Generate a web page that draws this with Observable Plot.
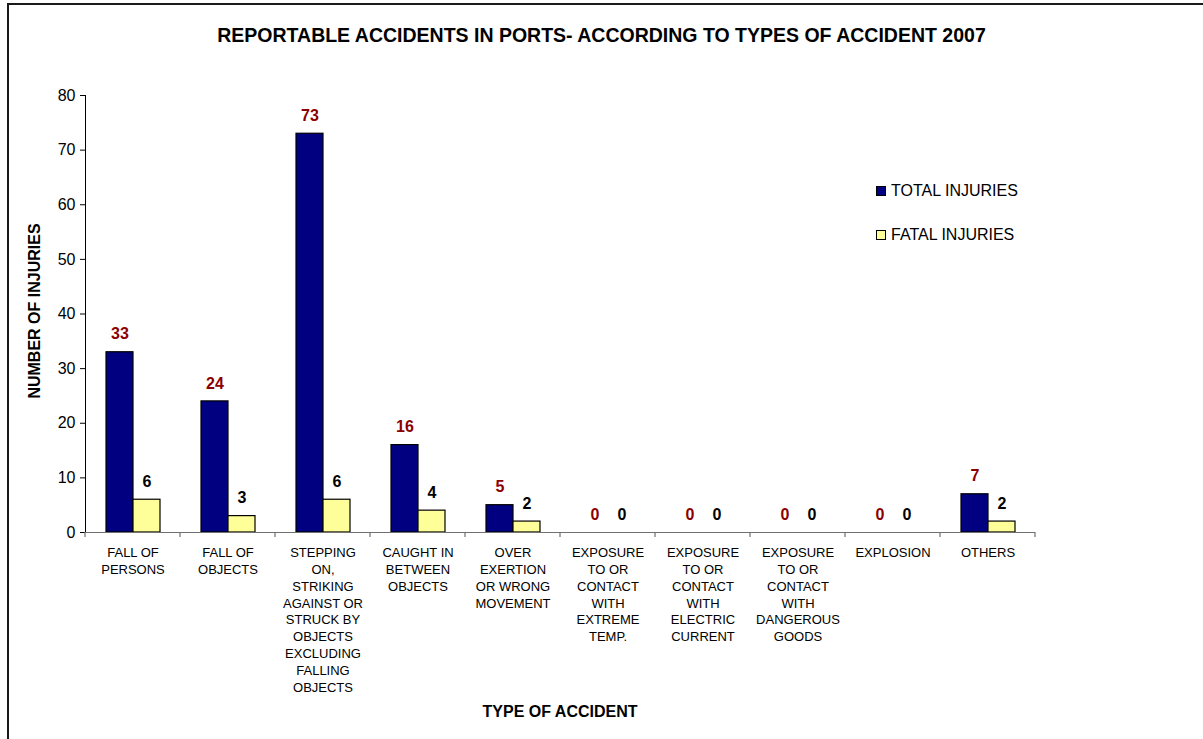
<!DOCTYPE html>
<html>
<head>
<meta charset="utf-8">
<script src="https://cdn.jsdelivr.net/npm/d3@7"></script>
<script src="https://cdn.jsdelivr.net/npm/@observablehq/plot@0.6"></script>
<style>
  html, body { margin: 0; padding: 0; background: #fff; }
  body { font-family: "Liberation Sans", Arial, sans-serif; color: #000; }
  #wrap { position: relative; width: 1203px; height: 739px; overflow: hidden; }
  #frame { position: absolute; left: 7px; top: 3px; width: 1400px; height: 900px;
           border-top: 2px solid #1a1a1a; border-left: 2px solid #1a1a1a; }
  #chart { position: absolute; left: 0; top: 0; }
  #title { position: absolute; left: 0; width: 1203px; top: 24px; text-align: center;
           font-weight: bold; font-size: 19.5px; line-height: 22px; white-space: nowrap; }
  #ylabel { position: absolute; left: -115px; top: 301px; width: 300px; height: 20px; line-height: 20px;
            text-align: center; font-weight: bold; font-size: 16px; transform: rotate(-90deg); white-space: nowrap; }
  #xlabel { position: absolute; left: 360px; width: 400px; top: 702px; line-height: 20px; text-align: center;
            font-weight: bold; font-size: 16px; white-space: nowrap; }
  .leg { position: absolute; font-size: 16px; line-height: 18px; white-space: nowrap; }
  .sw { position: absolute; left: 0; top: 4px; width: 8px; height: 8px; border: 1px solid #000; }
  .leg .lt { position: absolute; left: 15px; top: 0; }
  svg g[aria-label="y-axis tick"] { stroke: #707070; }
  svg g[aria-label="frame"] { stroke: #707070; }
</style>
</head>
<body>
<div id="wrap">
  <div id="frame"></div>
  <div id="chart"></div>
  <div id="title"></div>
  <div id="ylabel"></div>
  <div id="xlabel"></div>
</div>
<script>
const titleText = "REPORTABLE ACCIDENTS IN PORTS- ACCORDING TO TYPES OF ACCIDENT 2007";
const yAxisTitle = "NUMBER OF INJURIES";
const xAxisTitle = "TYPE OF ACCIDENT";

const categories = [
  "FALL OF\nPERSONS",
  "FALL OF\nOBJECTS",
  "STEPPING\nON,\nSTRIKING\nAGAINST OR\nSTRUCK BY\nOBJECTS\nEXCLUDING\nFALLING\nOBJECTS",
  "CAUGHT IN\nBETWEEN\nOBJECTS",
  "OVER\nEXERTION\nOR WRONG\nMOVEMENT",
  "EXPOSURE\nTO OR\nCONTACT\nWITH\nEXTREME\nTEMP.",
  "EXPOSURE\nTO OR\nCONTACT\nWITH\nELECTRIC\nCURRENT",
  "EXPOSURE\nTO OR\nCONTACT\nWITH\nDANGEROUS\nGOODS",
  "EXPLOSION",
  "OTHERS"
];
const series = ["TOTAL INJURIES", "FATAL INJURIES"];
const totalInjuries = [33, 24, 73, 16, 5, 0, 0, 0, 0, 7];
const fatalInjuries = [6, 3, 6, 4, 2, 0, 0, 0, 0, 2];
const yTicks = [0, 10, 20, 30, 40, 50, 60, 70, 80];
const barColors = ["#000080", "#FFFF99"];
const labelColors = ["#8B0000", "#000000"];

const data = categories.flatMap((c, i) => [
  {category: c, series: series[0], value: totalInjuries[i]},
  {category: c, series: series[1], value: fatalInjuries[i]}
]);

document.getElementById("title").textContent = titleText;
document.getElementById("ylabel").textContent = yAxisTitle;
document.getElementById("xlabel").textContent = xAxisTitle;

const chart = Plot.plot({
  width: 1203,
  height: 739,
  marginLeft: 83,
  marginRight: 166,
  marginTop: 95,
  marginBottom: 207,
  style: {fontFamily: "'Liberation Sans', Arial, sans-serif", fontSize: "16px", background: "transparent", overflow: "visible", color: "#000"},
  fx: {domain: categories, padding: 0, label: null},
  x: {domain: series, paddingInner: 0, paddingOuter: 0.734, axis: null},
  y: {domain: [0, 80], ticks: yTicks, tickSize: 5, tickPadding: 5, line: true, label: null},
  color: {domain: series, range: barColors},
  marks: [
    Plot.barY(data, {fx: "category", x: "series", y: "value", fill: "series", stroke: "#000", strokeWidth: 1.2}),
    Plot.ruleY([0], {stroke: "#707070", strokeWidth: 1.2}),
    Plot.text(data, {
      fx: "category", x: "series", y: "value",
      text: d => String(d.value),
      dy: -18,
      fill: d => labelColors[series.indexOf(d.series)],
      fontWeight: "bold", fontSize: 16
    }),
    Plot.axisFx({anchor: "bottom", tickSize: 0, tickPadding: 13, fontSize: 13, lineHeight: 1.29, label: null})
  ]
});
document.getElementById("chart").appendChild(chart);

// category boundary ticks on the x axis, positioned from Plot's own scales
const fx = chart.scale("fx");
const y = chart.scale("y");
const y0 = y.apply(0);
const bounds = categories.map(c => fx.apply(c)).concat([fx.apply(categories[categories.length - 1]) + fx.bandwidth]);
d3.select(chart).append("g").attr("aria-label", "x boundary ticks")
  .selectAll("line").data(bounds).join("line")
  .attr("x1", d => d).attr("x2", d => d)
  .attr("y1", y0).attr("y2", y0 + 5)
  .attr("stroke", "#707070").attr("stroke-width", 1.2);

// legend
const wrap = document.getElementById("wrap");
series.forEach((s, i) => {
  const item = document.createElement("div");
  item.className = "leg";
  item.style.left = "876px";
  item.style.top = (182 + i * 44) + "px";
  const sw = document.createElement("span");
  sw.className = "sw";
  sw.style.background = barColors[i];
  const t = document.createElement("span");
  t.className = "lt";
  t.textContent = s;
  item.appendChild(sw);
  item.appendChild(t);
  wrap.appendChild(item);
});
</script>
</body>
</html>
